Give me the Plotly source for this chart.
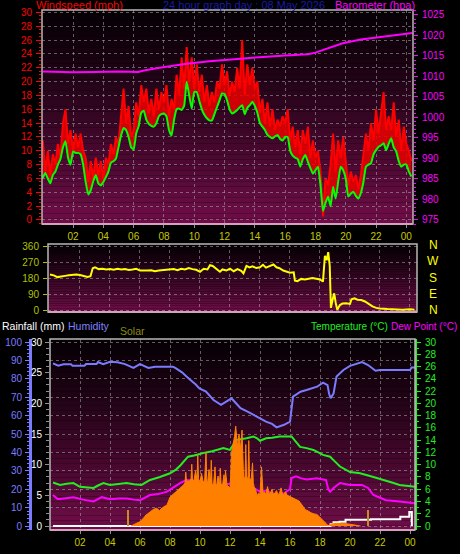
import plotly.graph_objects as go

# ---------------- DATA ----------------
# Top panel: wind (10-minute samples starting 00:00)
wind_gust_mph = [
    11.5, 7, 10, 6.5, 9.5, 8,
    11, 9, 14, 16, 11, 13,
    10, 12.5, 10.5, 12.5, 10, 9,
    5.5, 8.5, 6, 9, 6.5, 8.5,
    6, 9, 8, 11, 9.5, 12,
    11, 15, 19, 14, 16.5, 12,
    13, 17, 15, 19.5, 17, 19,
    15.5, 17.5, 15, 19, 16, 18.5,
    17, 19.5, 15, 17.5, 16, 21,
    18, 23.5, 19, 25, 20, 23.5,
    19, 22.5, 18.5, 21, 17, 19.5,
    16.5, 18.5, 17, 20, 19, 22.5,
    19.5, 21.5, 18, 20, 18.5, 22,
    19, 26, 18, 22.5, 19.5, 22,
    19, 20, 15.5, 17.5, 14, 17,
    13.5, 16, 13, 14.5, 13.5, 15,
    14, 16, 11.5, 13.5, 10.5, 13,
    9.5, 13, 11, 13.5, 9, 11.5,
    9, 10, 7, 0.5, 6, 5,
    8, 12.5, 7, 11.5, 9, 12,
    8, 5, 7, 5.5, 6.5, 4.5,
    6.5, 10, 12.5, 10, 14, 11.5,
    16, 12.5, 15.5, 18.5, 13, 15,
    13, 17, 12, 14.5, 10, 13.5,
    11, 10, 8.5,
]
wind_avg_mph = [
    6.1, 6.8, 6.0, 5.3, 6.5, 7.0,
    8.0, 8.8, 10.5, 11.4, 9.0, 8.0,
    9.9, 9.7, 9.7, 9.5, 8.0, 5.5,
    3.7, 4.3, 5.6, 6.5, 5.3, 5.0,
    5.5, 6.2, 7.0, 8.3, 8.5, 8.9,
    10.5, 12.2, 13.3, 13.0, 12.0, 10.5,
    10.2, 12.5, 13.6, 15.5, 15.8, 14.5,
    13.9, 13.6, 13.5, 14.0, 15.0, 15.3,
    15.4, 15.0, 13.0, 12.2, 14.5, 16.0,
    16.1, 15.9, 16.5, 20.0, 18.0, 16.1,
    18.5, 18.5, 17.2, 16.0, 15.2, 14.7,
    14.4, 14.4, 15.3, 16.3, 17.3, 18.3,
    18.2, 17.3, 16.0, 15.4, 15.6, 15.9,
    16.3, 16.6, 15.3, 16.2, 16.6, 17.1,
    16.5, 15.5, 14.0, 13.5, 13.0, 12.3,
    12.0, 11.8, 12.1, 12.3, 11.7, 11.5,
    12.0, 12.0, 10.0, 9.3, 9.0, 8.8,
    7.7, 8.8, 9.4, 8.4, 7.5, 6.7,
    7.2, 7.7, 5.0, 1.3, 2.5, 3.4,
    2.0, 4.8, 3.1, 5.5, 7.7, 7.2,
    6.0, 3.4, 3.8, 4.1, 3.5, 3.1,
    3.9, 5.5, 7.7, 8.0, 8.2, 9.5,
    10.1, 10.6, 10.8, 11.1, 10.1, 11.0,
    11.8, 10.5, 9.9, 8.5, 7.7, 8.0,
    8.0, 7.0, 6.3,
]
wind_hours = [i / 6 for i in range(len(wind_gust_mph))]

baro_hours = [0, 1.5, 2.0, 3.5, 5, 6.3, 6.6, 7.5, 8.5, 9.5, 11, 12.5, 14.3, 16, 17.5, 18.0, 19, 19.8, 21, 22.2, 23.6, 24.4]
baro_hpa = [1011.2, 1011.1, 1011.0, 1011.1, 1011.2, 1011.1, 1011.4, 1012.0, 1012.6, 1013.1, 1013.7, 1014.2, 1014.7, 1015.1, 1015.4, 1015.8, 1017.0, 1018.1, 1019.0, 1019.6, 1020.3, 1020.6]

# Middle panel: wind direction (degrees)
dir_hours = [0, 0.25, 0.5, 0.75, 1.0, 1.25, 1.5, 1.75, 2.0, 2.25, 2.5, 2.7, 2.85, 3.0, 3.25, 3.5, 3.75, 4.0, 4.25, 4.5,
             4.75, 5.0, 5.25, 5.5, 5.75, 6.0, 6.25, 6.5, 6.75, 7.0, 7.25, 7.5, 7.75, 8.0, 8.25, 8.5, 8.75, 9.0, 9.25, 9.5,
             9.75, 10.0, 10.25, 10.5, 10.67, 10.85, 11.0, 11.33, 11.5, 11.75, 12.0, 12.25, 12.5, 12.75, 12.9, 13.1, 13.3,
             13.5, 13.75, 14.0, 14.2, 14.4, 14.6, 14.9, 15.1, 15.3, 15.55, 15.8, 16.0, 16.25, 16.33, 16.5, 16.75, 17.0,
             17.25, 17.5, 17.75, 18.0, 18.2, 18.33, 18.45, 18.55, 18.65, 18.73, 18.85, 18.95, 19.05, 19.15, 19.33, 19.5,
             19.75, 20.0, 20.1, 20.3, 20.5, 20.75, 21.0, 21.25, 21.5, 21.75, 22.0, 22.5, 23.0, 23.5, 24.0, 24.3]
dir_deg = [200, 195, 185, 190, 192, 195, 198, 200, 197, 190, 186, 190, 235, 240, 230, 232, 228, 230, 226, 232,
           228, 230, 225, 228, 232, 222, 220, 222, 224, 218, 222, 224, 228, 226, 230, 224, 232, 228, 236, 230,
           226, 215, 232, 228, 252, 248, 238, 215, 228, 222, 232, 218, 230, 220, 206, 248, 240,
           246, 236, 240, 254, 238, 245, 256, 240, 235, 222, 215, 210, 212, 165, 162, 175, 172,
           178, 180, 176, 172, 160, 305, 280, 325, 250, 12, 60, 94, 40, 2, 28, 36,
           38, 34, 60, 66, 58, 56, 48, 34, 20, 12, 8, 5, 3, 2, 4, 2]
compass_labels = ["N", "W", "S", "E", "N"]

# Bottom panel
hum_hours = [0.2, 0.55, 0.9, 1.4, 1.5, 2.3, 2.4, 3.1, 3.2, 3.55, 4.0, 4.5, 5.0, 5.56, 6.0, 6.56, 7.0, 8.2, 8.4, 8.8,
             9.1, 9.3, 9.5, 9.7, 9.96, 10.4, 10.6, 10.9, 11.4, 11.8, 12.1, 12.2, 12.7, 13.2, 13.6, 14.0, 14.4, 14.8,
             15.1, 15.6, 16.0, 16.2, 16.7, 17.1, 17.8, 18.2, 18.5, 18.6, 18.7, 18.9, 19.1, 19.56, 20.0, 20.8, 21.2,
             21.7, 22.0, 24.0, 24.1, 24.33]
humidity_pct = [88.4, 87.1, 87.9, 87.9, 87.1, 87.1, 88.0, 88.0, 89.1, 88.0, 89.3, 89.0, 88.0, 85.9, 88.0, 85.9, 86.6, 86.6, 85.7, 83.5,
                81.2, 80.0, 78.4, 77.0, 74.8, 73.0, 71.0, 68.5, 65.8, 67.6, 69.4, 68.5, 64.0, 62.0, 60.3, 58.5, 56.7, 55.5,
                53.6, 55.0, 56.7, 70.3, 73.0, 73.9, 75.7, 77.9, 76.6, 72.0, 69.4, 72.0, 81.2, 84.8, 87.0, 89.1, 87.5,
                84.4, 84.8, 84.8, 86.2, 86.2]

temp_hours = [0.2, 0.67, 1.1, 1.56, 2.0, 2.5, 2.9, 3.2, 3.56, 4.0, 4.5, 5.1, 5.6, 6.1, 6.67, 7.0, 7.33, 8.0, 8.4, 8.7,
              9.2, 9.6, 10.0, 10.4, 10.8, 11.2, 11.56, 12.0, 12.2, 12.4, 12.8, 13.1, 13.56, 13.8, 14.0, 14.4, 14.8,
              15.3, 16.1, 16.4, 16.67, 17.1, 17.56, 18.2, 18.67, 19.0, 19.33, 20.0, 20.67, 21.56, 22.3, 22.9, 23.3,
              23.8, 24.33]
temperature_c = [7.1, 6.7, 6.9, 7.0, 6.4, 6.3, 6.2, 6.6, 7.0, 6.7, 6.8, 7.0, 6.8, 6.7, 7.5, 7.7, 8.0, 8.6, 9.2, 9.9,
                 11.3, 11.5, 11.8, 12.0, 12.2, 12.5, 12.7, 12.4, 13.2, 14.0, 14.2, 14.3, 14.6, 14.3, 13.9, 14.3, 14.4,
                 14.6, 14.6, 13.7, 12.9, 12.7, 12.4, 11.6, 11.3, 10.5, 9.7, 8.8, 8.6, 8.0, 7.5, 7.0, 6.7,
                 6.5, 6.4]

dew_hours = [0.2, 0.5, 0.67, 1.1, 1.56, 2.2, 2.9, 3.45, 4.0, 4.6, 5.1, 5.6, 6.0, 6.67, 7.2, 7.8, 8.2, 8.67, 9.1, 9.5,
             10.0, 10.3, 10.67, 11.3, 11.8, 12.2, 12.67, 13.0, 13.33, 13.7, 14.0, 14.4, 14.9, 15.3, 15.7, 16.0, 16.1,
             16.4, 16.7, 17.1, 17.78, 18.4, 18.55, 18.67, 18.9, 19.33, 20.0, 20.8, 21.2, 21.56, 22.0, 22.4, 23.3,
             23.8, 24.33]
dewpoint_c = [5.05, 4.4, 4.4, 4.6, 4.7, 4.3, 4.0, 4.7, 4.35, 4.5, 4.5, 4.3, 4.2, 5.05, 5.2, 5.6, 6.2, 7.0, 7.5, 7.4,
              7.3, 6.9, 6.7, 6.4, 6.8, 7.0, 7.3, 6.9, 6.4, 6.0, 5.6, 5.8, 5.3, 4.8, 5.5, 6.0, 7.8,
              8.1, 7.8, 7.6, 7.8, 7.5, 6.0, 5.6, 6.2, 7.0, 6.7, 6.7, 6.2, 5.05, 4.6, 4.2, 4.0,
              3.8, 3.7]

rain_hours = [0.2, 18.55, 18.7, 18.9, 19.3, 19.7, 21.3, 21.4, 23.3, 23.35, 23.9, 23.95, 24.1, 24.12]
rain_mm = [0, 0, 0.3, 0.6, 0.7, 1.0, 1.0, 1.1, 1.1, 1.5, 1.5, 2.3, 2.3, 0]

solar_hours = [5.4, 5.7, 6.0, 6.2, 6.4, 6.6, 6.9, 7.1, 7.3, 7.5, 7.8, 8.0, 8.2, 8.4, 8.6, 8.8, 8.9, 9.0, 9.05, 9.1,
               9.2, 9.3, 9.4, 9.45, 9.5, 9.6, 9.7, 9.8, 9.85, 9.9, 10.0, 10.1, 10.2, 10.3, 10.4, 10.45, 10.5, 10.6,
               10.7, 10.75, 10.8, 10.9, 11.0, 11.05, 11.1, 11.2, 11.3, 11.35, 11.4, 11.5, 11.6, 11.65, 11.7, 11.8,
               11.9, 12.0, 12.05, 12.1, 12.2, 12.3, 12.38, 12.45, 12.5, 12.6, 12.65, 12.7, 12.8, 12.85, 12.9, 13.0,
               13.05, 13.1, 13.2, 13.25, 13.3, 13.4, 13.5, 13.55, 13.6, 13.7, 13.8, 13.9, 14.0, 14.1, 14.2, 14.3,
               14.4, 14.5, 14.6, 14.7, 14.8, 14.9, 15.0, 15.1, 15.2, 15.3, 15.4, 15.5, 15.6, 15.7, 15.8, 15.9, 16.0,
               16.2, 16.4, 16.6, 16.8, 17.0, 17.2, 17.4, 17.6, 17.8, 18.0, 18.2, 18.4, 18.55, 18.7, 19.0, 19.3, 19.6,
               19.9, 20.2, 20.5, 20.7]
solar_wm2 = [0, 15, 33, 55, 84, 100, 127, 135, 118, 140, 160, 220, 240, 262, 285, 300, 312, 330, 410, 335,
             345, 340, 360, 470, 350, 345, 420, 350, 540, 360, 330, 400, 340, 330, 560, 350, 320, 430,
             330, 500, 320, 310, 450, 320, 300, 380, 310, 440, 320, 310, 390, 320, 420, 310,
             300, 290, 400, 560, 620, 680, 760, 640, 600, 700, 610, 580, 730, 400, 380, 360,
             620, 380, 350, 650, 370, 340, 480, 330, 300, 280, 230, 250, 240, 450, 250, 260,
             240, 300, 245, 250, 280, 235, 250, 270, 240, 250, 290, 245, 240, 260, 235, 230, 225,
             210, 200, 190, 160, 125, 115, 100, 92, 88, 65, 46, 20, 0, 12, 20, 22, 20,
             15, 10, 5, 0]
solar_spike_hours = [5.2, 21.2]
solar_spike_wm2 = [120, 120]

hour_ticks = [2, 4, 6, 8, 10, 12, 14, 16, 18, 20, 22, 24]
hour_labels = ["02", "04", "06", "08", "10", "12", "14", "16", "18", "20", "22", "00"]

assert len(wind_gust_mph) == len(wind_avg_mph)
assert len(baro_hours) == len(baro_hpa)
assert len(dir_hours) == len(dir_deg)
assert len(hum_hours) == len(humidity_pct)
assert len(temp_hours) == len(temperature_c)
assert len(dew_hours) == len(dewpoint_c)
assert len(rain_hours) == len(rain_mm)
assert len(solar_hours) == len(solar_wm2)

# ---------------- LAYOUT HELPERS ----------------
W, H = 460, 554
def px(x):
    return x / W
def py(y):
    return 1 - y / H

FONT = "Liberation Sans, Arial, sans-serif"
TICKCOL = "#c8c800"
GRID = dict(showgrid=True, gridcolor="rgba(170,170,170,0.55)", griddash="dot", gridwidth=1)

fig = go.Figure()

# ---- top panel traces
fig.add_trace(go.Scatter(x=baro_hours, y=baro_hpa, mode="lines", line=dict(color="#ff00ff", width=2),
                         xaxis="x", yaxis="y2", showlegend=False))
fig.add_trace(go.Scatter(x=wind_hours, y=wind_avg_mph, mode="lines", line=dict(color="rgba(0,0,0,0)", width=0),
                         xaxis="x", yaxis="y", showlegend=False, hoverinfo="skip"))
fig.add_trace(go.Scatter(x=wind_hours, y=wind_gust_mph, mode="lines", line=dict(color="#ff0000", width=2),
                         fill="tonexty", fillcolor="rgba(235,0,0,0.85)",
                         xaxis="x", yaxis="y", showlegend=False))
fig.add_trace(go.Scatter(x=wind_hours, y=wind_avg_mph, mode="lines", line=dict(color="#00ff00", width=2, shape="spline", smoothing=0.4),
                         xaxis="x", yaxis="y", showlegend=False))

# ---- middle panel
fig.add_trace(go.Scatter(x=dir_hours, y=dir_deg, mode="lines", line=dict(color="#ffff00", width=2),
                         xaxis="x2", yaxis="y3", showlegend=False))

# ---- bottom panel
fig.add_trace(go.Scatter(x=solar_hours, y=solar_wm2, mode="lines", fill="tozeroy", fillcolor="#ff8000",
                         line=dict(color="#ff8000", width=1), xaxis="x3", yaxis="y7", showlegend=False))
fig.add_trace(go.Bar(x=solar_spike_hours, y=solar_spike_wm2, width=0.1, marker=dict(color="#c09020", line=dict(width=0)),
                     xaxis="x3", yaxis="y7", showlegend=False))
fig.add_trace(go.Scatter(x=hum_hours, y=humidity_pct, mode="lines", line=dict(color="#7b7bff", width=2),
                         xaxis="x3", yaxis="y5", showlegend=False))
fig.add_trace(go.Scatter(x=temp_hours, y=temperature_c, mode="lines", line=dict(color="#22ee22", width=2),
                         xaxis="x3", yaxis="y6", showlegend=False))
fig.add_trace(go.Scatter(x=dew_hours, y=dewpoint_c, mode="lines", line=dict(color="#ff00ff", width=2),
                         xaxis="x3", yaxis="y6", showlegend=False))
fig.add_trace(go.Scatter(x=rain_hours, y=rain_mm, mode="lines", line=dict(color="#ffffff", width=2, shape="hv"),
                         xaxis="x3", yaxis="y4", showlegend=False))

# panel pixel boxes (left, top, right, bottom)
TOP = (42, 10, 413, 224)
MID = (48, 244, 417, 312)
BOT = (50, 339, 415, 530)

layout = dict(
    width=W, height=H,
    margin=dict(l=0, r=0, t=0, b=0, autoexpand=False),
    paper_bgcolor="black", plot_bgcolor="rgba(0,0,0,0)",
    font=dict(family=FONT, color="white"),
    showlegend=False,
    bargap=0,
    # top panel
    xaxis=dict(domain=[px(TOP[0]), px(TOP[2])], range=[-0.05, 24.44], anchor="y",
               tickvals=hour_ticks, ticktext=hour_labels, tickfont=dict(family=FONT, size=10, color=TICKCOL),
               ticks="outside", ticklen=3, tickcolor="#909090", zeroline=False, showline=False, **GRID),
    yaxis=dict(domain=[py(TOP[3]), py(TOP[1])], range=[-0.58, 30.36], anchor="x",
               tickvals=list(range(0, 31, 2)), tickfont=dict(family=FONT, size=10, color="#ff0000"),
               ticks="outside", ticklen=5, tickcolor="#ff0000", ticklabelstandoff=2,
               minor=dict(dtick=0.5, ticklen=2, tickcolor="#ff0000", showgrid=False),
               zeroline=False, showline=False, **GRID),
    yaxis2=dict(overlaying="y", side="right", anchor="x", range=[974.0, 1026.2],
                tickvals=list(range(975, 1026, 5)), tickfont=dict(family=FONT, size=10, color="#ff00ff"),
                ticks="outside", ticklen=4, tickcolor="#ff00ff", ticklabelstandoff=2,
                minor=dict(dtick=1, ticklen=2, tickcolor="#ff00ff"),
                showgrid=False, zeroline=False, showline=False),
    # middle panel
    xaxis2=dict(domain=[px(MID[0]), px(MID[2])], range=[-0.133, 24.47], anchor="y3",
                tickvals=hour_ticks, showticklabels=False, ticks="", zeroline=False, showline=False, **GRID),
    yaxis3=dict(domain=[py(MID[3]), py(MID[1])], range=[-11.25, 371.25], anchor="x2",
                tickvals=[0, 90, 180, 270, 360], tickfont=dict(family=FONT, size=10, color="#b4c000"),
                ticks="outside", ticklen=4, tickcolor="#b4c000", ticklabelstandoff=2,
                zeroline=False, showline=False, **GRID),
    # bottom panel
    xaxis3=dict(domain=[px(BOT[0]), px(BOT[2])], range=[0, 24.33], anchor="y4",
                tickvals=hour_ticks, ticktext=hour_labels, tickfont=dict(family=FONT, size=10, color=TICKCOL),
                ticks="outside", ticklen=3, tickcolor="#909090", zeroline=False, showline=False, **GRID),
    yaxis4=dict(domain=[py(BOT[3]), py(BOT[1])], range=[-0.652, 30.49], anchor="x3",
                tickvals=[0, 5, 10, 15, 20, 25, 30], tickfont=dict(family=FONT, size=10, color="#ffffff"),
                ticks="outside", ticklen=4, tickcolor="#909090", ticklabelstandoff=1,
                minor=dict(dtick=1, ticklen=3, tickcolor="#909090"),
                showgrid=False, zeroline=False, showline=False),
    yaxis5=dict(overlaying="y4", anchor="free", position=px(30), side="left", range=[-2.17, 101.63],
                tickvals=list(range(0, 101, 10)), tickfont=dict(family=FONT, size=10, color="#7b7bff"),
                ticks="outside", ticklen=4, tickcolor="#7b7bff", ticklabelstandoff=1,
                minor=dict(dtick=2, ticklen=2, tickcolor="#7b7bff"),
                showline=True, linecolor="#7b7bff", linewidth=3, zeroline=False, **GRID),
    yaxis6=dict(overlaying="y4", side="right", anchor="x3", range=[-0.652, 30.49],
                tickvals=list(range(0, 31, 2)), tickfont=dict(family=FONT, size=10, color="#22ee22"),
                ticks="outside", ticklen=4, tickcolor="#22ee22", ticklabelstandoff=2,
                minor=dict(dtick=1, ticklen=2, tickcolor="#22ee22"),
                showline=True, linecolor="#22ee22", linewidth=2,
                showgrid=False, zeroline=False),
    yaxis7=dict(overlaying="y4", anchor="x3", range=[-30.4, 1422.9], visible=False, showgrid=False),
)

# gradient backgrounds (shapes below grid)
shapes = []
def gradient(box, n=40, top=(6, 0, 5), bot=(112, 14, 72)):
    l, t, r, b = box
    h = (b - t) / n
    for i in range(n):
        f = (i + 0.5) / n
        f = f ** 1.15
        c = tuple(int(top[k] + (bot[k] - top[k]) * f) for k in range(3))
        shapes.append(dict(type="rect", xref="paper", yref="paper", layer="below",
                           x0=px(l), x1=px(r), y0=py(t + (i + 1) * h), y1=py(t + i * h),
                           fillcolor="rgb(%d,%d,%d)" % c, line=dict(width=0)))
for box in (TOP, MID, BOT):
    gradient(box)
    l, t, r, b = box
    shapes.append(dict(type="rect", xref="paper", yref="paper", layer="above",
                       x0=px(l), x1=px(r), y0=py(b), y1=py(t),
                       fillcolor="rgba(0,0,0,0)", line=dict(color="#b8b8b8", width=1.5)))
    shapes.append(dict(type="line", xref="paper", yref="paper", layer="above",
                       x0=px(l), x1=px(r), y0=py(b), y1=py(b),
                       line=dict(color="#d8a0c0", width=2)))
layout["shapes"] = shapes

ann = []
def text(x, y, s, color, size=11, xanchor="left", yanchor="middle", pad=1):
    ann.append(dict(xref="paper", yref="paper", x=px(x), y=py(y), text=s, showarrow=False, borderpad=pad,
                    xanchor=xanchor, yanchor=yanchor, font=dict(family=FONT, size=size, color=color)))

text(34, 5, "Windspeed (mph)", "#ff0000", 11)
text(244, 5, "24 hour graph day : 08 May 2026", "#1a1aa8", 11, xanchor="center")
text(417, 5, "Barometer (hpa)", "#ff00ff", 11, xanchor="right")
for i, lab in enumerate(compass_labels):
    text(433, 245 + i * 16.3, lab, "#ffff00", 12, xanchor="center")
text(0, 326, "Rainfall (mm)", "#ffffff", 10.5)
text(66, 326, "Humidity", "#8080ff", 10.5)
text(118, 331, "Solar", "#8c8c10", 10.5)
text(309, 326, "Temperature (°C)", "#22ee22", 10)
text(459, 326, "Dew Point (°C)", "#ff00ff", 10, xanchor="right")
layout["annotations"] = ann

fig.update_layout(**layout)
fig.write_html("out.html", config={"displayModeBar": False},
               post_script="document.body.style.margin='0';document.body.style.padding='0';document.body.style.overflow='hidden';")
